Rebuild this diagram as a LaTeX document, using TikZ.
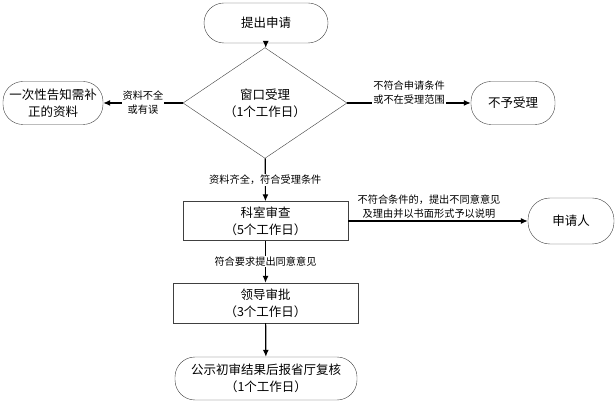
\documentclass[tikz,border=0pt]{standalone}
\usepackage{fontspec}
\setmainfont{Noto Sans CJK SC}
\usetikzlibrary{arrows.meta,shapes.geometric}

\begin{document}
\begin{tikzpicture}[->,>={Latex[length=7pt,width=6pt]},x=1pt,y=-1pt,line width=1.2pt,
  end node/.style={rectangle,rounded corners=20pt,draw=black!75,thin,align=center,
    inner sep=0pt,font=\fontsize{12.5}{17}\selectfont},
  step node/.style={rectangle,draw=black!75,thin,align=center,
    inner sep=0pt,font=\fontsize{12.5}{17}\selectfont},
  check node/.style={diamond,draw=black!75,thin,align=center,
    inner sep=0pt,font=\fontsize{12.5}{17}\selectfont},
  note/.style={align=center,font=\fontsize{10.2}{14}\selectfont,inner sep=1pt}]

  \useasboundingbox (0,0) rectangle (616,403);

  \node[end node,minimum width=124pt,minimum height=40pt] (apply) at (266,23) {提出申请};
  \node[check node,minimum width=164pt,minimum height=76pt] (window) at (265,103) {窗口受理\\（1个工作日）};
  \node[end node,minimum width=100pt,minimum height=43pt] (notice) at (53,103) {一次性告知需补\\正的资料};
  \node[end node,minimum width=84pt,minimum height=43pt] (reject) at (513,103) {不予受理};
  \node[step node,minimum width=165pt,minimum height=39pt] (review) at (265.5,221) {科室审查\\（5个工作日）};
  \node[end node,minimum width=86pt,minimum height=46pt,rounded corners=22pt] (applicant) at (571,221) {申请人};
  \node[step node,minimum width=185pt,minimum height=40pt] (approve) at (265.5,303) {领导审批\\（3个工作日）};
  \node[end node,minimum width=182pt,minimum height=43pt] (publish) at (266,378.5) {公示初审结果后报省厅复核\\（1个工作日）};

  \path[every node/.style={note}]
    (apply) edge (window)
    (window) edge node[fill=white] {资料不全\\或有误} (notice)
    (window) edge node[fill=white,yshift=10pt] {不符合申请条件\\或不在受理范围} (reject)
    (window) edge node[fill=white] {资料齐全，符合受理条件} (review)
    (review) edge node[pos=0.45,above=1pt] {不符合条件的，提出不同意意见\\及理由并以书面形式予以说明} (applicant)
    (review) edge node[fill=white] {符合要求提出同意意见} (approve)
    (approve) edge (publish);
\end{tikzpicture}
\end{document}
